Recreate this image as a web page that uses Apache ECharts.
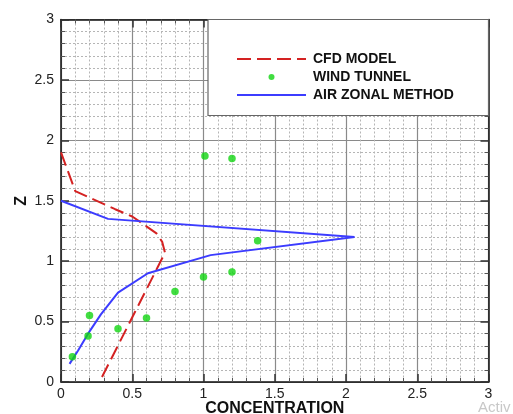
<!DOCTYPE html>
<html><head><meta charset="utf-8">
<script src="https://cdn.jsdelivr.net/npm/echarts@6/dist/echarts.min.js"></script>
<style>html,body{margin:0;padding:0;background:#fff}#c{width:513px;height:414px}</style>
</head><body><div id="c"></div>
<script>
// CFD MODEL (concentration, z)
const cfdX = [0.00, 0.10, 0.38, 0.50, 0.67, 0.71, 0.73, 0.27];
const cfdZ = [1.90, 1.58, 1.43, 1.37, 1.23, 1.16, 1.07, 0.00];
// WIND TUNNEL
const windX = [0.08, 0.19, 0.20, 0.40, 0.60, 0.80, 1.00, 1.20, 1.38, 1.01, 1.20];
const windZ = [0.21, 0.38, 0.55, 0.44, 0.53, 0.75, 0.87, 0.91, 1.17, 1.87, 1.85];
// AIR ZONAL METHOD
const azX = [0.06, 0.12, 0.19, 0.28, 0.40, 0.61, 1.05, 2.06, 0.33, 0.00];
const azZ = [0.15, 0.26, 0.40, 0.56, 0.74, 0.90, 1.05, 1.20, 1.35, 1.50];
const xTicks = [0, 0.5, 1, 1.5, 2, 2.5, 3];
const zTicks = [0, 0.5, 1, 1.5, 2, 2.5, 3];

const pair = (xs, ys) => xs.map((v, i) => [v, ys[i]]);
const chart = echarts.init(document.getElementById('c'), null, {renderer: 'canvas'});
const FONT = 'Liberation Sans';
const baseAxis = {
  type: 'value', min: xTicks[0], max: xTicks[xTicks.length - 1], interval: 0.5,
  nameMoveOverlap: false,
  axisLine: {show: true, onZero: false, lineStyle: {color: '#111', width: 1.5}},
  axisTick: {show: true, inside: true, length: 8, lineStyle: {color: '#333', width: 1.5}},
  minorTick: {show: true, splitNumber: 5, length: 4, lineStyle: {color: '#555', width: 1}},
  splitLine: {show: true, lineStyle: {color: '#8a8a8a', width: 1.2}},
  minorSplitLine: {show: true, lineStyle: {color: '#b5b5b5', width: 1, type: [2, 2]}}
};
const hiddenIcon = {opacity: 0, color: 'rgba(0,0,0,0)', borderWidth: 0};
chart.setOption({
  animation: false,
  grid: {left: 61, right: 24.5, top: 19.5, bottom: 32, containLabel: false, outerBoundsMode: 'none'},
  xAxis: [
    Object.assign({}, baseAxis, {
      position: 'bottom', name: 'CONCENTRATION', nameLocation: 'middle', nameGap: 19,
      nameTextStyle: {fontFamily: FONT, fontWeight: 'bold', fontSize: 16, color: '#111'},
      axisLabel: {fontFamily: FONT, fontSize: 14, color: '#222', margin: 5}
    }),
    Object.assign({}, baseAxis, {position: 'top', axisLabel: {show: false}, splitLine: {show: false}, minorSplitLine: {show: false}})
  ],
  yAxis: [
    Object.assign({}, baseAxis, {
      min: zTicks[0], max: zTicks[zTicks.length - 1],
      position: 'left', name: 'Z', nameLocation: 'middle', nameGap: 31,
      nameTextStyle: {fontFamily: FONT, fontWeight: 'bold', fontSize: 16, color: '#111'},
      axisLabel: {fontFamily: FONT, fontSize: 14, color: '#222', margin: 7}
    }),
    Object.assign({}, baseAxis, {min: zTicks[0], max: zTicks[zTicks.length - 1], position: 'right', axisLabel: {show: false}, splitLine: {show: false}, minorSplitLine: {show: false}})
  ],
  legend: {
    orient: 'vertical', left: 231, top: 47, itemWidth: 69, itemHeight: 6, itemGap: 4,
    z: 10,
    textStyle: {fontFamily: FONT, fontWeight: 'bold', fontSize: 14, color: '#111', padding: [0, 0, 0, 2]},
    data: [
      {name: 'CFD MODEL', itemStyle: hiddenIcon},
      {name: 'WIND TUNNEL'},
      {name: 'AIR ZONAL METHOD', itemStyle: hiddenIcon}
    ]
  },
  graphic: [
    {type: 'rect', z: 5, shape: {x: 208, y: 19.5, width: 280.5, height: 96}, style: {fill: '#fff', stroke: '#666', lineWidth: 1.2}},
    {type: 'text', z: 5, left: 478, top: 400, style: {text: 'Activ', font: '15px "Liberation Sans"', fill: '#c8c8c8'}}
  ],
  series: [
    {name: 'CFD MODEL', type: 'line', data: pair(cfdX, cfdZ), symbol: 'none', z: 3,
     lineStyle: {color: '#d42222', width: 2, type: [14, 6]}, itemStyle: {color: '#d42222'}},
    {name: 'WIND TUNNEL', type: 'scatter', data: pair(windX, windZ), symbol: 'circle', symbolSize: 7.5, z: 4,
     itemStyle: {color: '#12d412'}},
    {name: 'AIR ZONAL METHOD', type: 'line', data: pair(azX, azZ), symbol: 'none', z: 3,
     lineStyle: {color: '#3c3cff', width: 2}, itemStyle: {color: '#3c3cff'}}
  ]
});
</script></body></html>
